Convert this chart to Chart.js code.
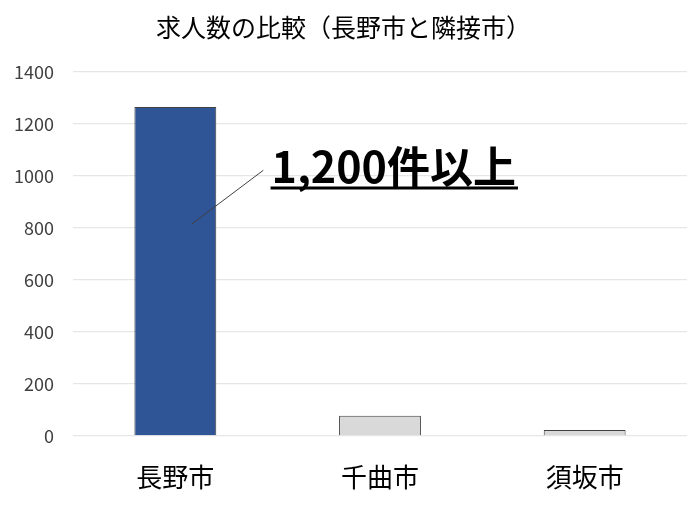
<!DOCTYPE html>
<html>
<head>
<meta charset="utf-8">
<script src="https://cdn.jsdelivr.net/npm/chart.js@4"></script>
<style>
  html, body { margin: 0; padding: 0; background: #fff; }
  #wrap { width: 700px; height: 505px; }
</style>
</head>
<body>
<div id="wrap"><canvas id="chartKyujin"></canvas></div>
<script>
const ciudades = ["長野市", "千曲市", "須坂市"];
const kyujin = [1265, 78, 23];
const coloresBarra = ["#2F5597", "#D9D9D9", "#D9D9D9"];
const ticksY = [0, 200, 400, 600, 800, 1000, 1200, 1400];
const textoNota = "1,200件以上";

const FONT = "'Noto Sans CJK JP', 'Noto Sans', sans-serif";

// callout text with underline and leader line, placed in data coordinates
const notaPlugin = {
    id: "nota",
    afterDatasetsDraw(chart) {
        const ctx = chart.ctx;
        const x = chart.scales.x, y = chart.scales.y;
        const paso = x.getPixelForValue(1) - x.getPixelForValue(0);
        const tx = x.getPixelForValue(0) + paso * 0.47;
        const ty = y.getPixelForValue(975);
        ctx.save();
        ctx.font = "bold 43px " + FONT;
        ctx.fillStyle = "#000";
        ctx.textBaseline = "alphabetic";
        ctx.fillText(textoNota, tx, ty);
        const w = ctx.measureText(textoNota).width;
        ctx.fillRect(tx - 1, ty + 4, w + 3, 3);

        ctx.strokeStyle = "#404040";
        ctx.lineWidth = 1;
        ctx.beginPath();
        ctx.moveTo(x.getPixelForValue(0) + paso * 0.43, y.getPixelForValue(1022));
        ctx.lineTo(x.getPixelForValue(0) + paso * 0.08, y.getPixelForValue(815));
        ctx.stroke();
        ctx.restore();
    }
};

new Chart(document.getElementById("chartKyujin"), {
    type: "bar",
    data: {
        labels: ciudades,
        datasets: [{
            data: kyujin,
            backgroundColor: coloresBarra,
            borderColor: "#404040",
            borderWidth: 1,
            categoryPercentage: 1,
            barPercentage: 0.4
        }]
    },
    options: {
        responsive: true,
        maintainAspectRatio: false,
        animation: false,
        layout: { padding: { left: 0, right: 13, top: 0, bottom: 0 } },
        plugins: {
            legend: { display: false },
            tooltip: { enabled: false },
            title: {
                display: true,
                text: "求人数の比較（長野市と隣接市）",
                color: "#000",
                font: { family: FONT, size: 25, weight: "normal" },
                padding: { top: 12, bottom: 30 }
            }
        },
        scales: {
            x: {
                grid: { display: false },
                border: { display: false },
                ticks: {
                    color: "#000",
                    padding: 18,
                    font: { family: FONT, size: 26 }
                },
                afterFit(scale) { scale.height = 69; }
            },
            y: {
                min: 0,
                max: 1400,
                afterBuildTicks(scale) { scale.ticks = ticksY.map(v => ({ value: v })); },
                grid: { color: "#E6E6E6", lineWidth: 1.3, drawTicks: false },
                border: { display: false },
                ticks: {
                    color: "#404040",
                    padding: 19,
                    font: { family: FONT, size: 18 },
                    callback: v => String(v)
                },
                afterFit(scale) { scale.width = 73; }
            }
        }
    },
    plugins: [notaPlugin]
});
</script>
</body>
</html>
